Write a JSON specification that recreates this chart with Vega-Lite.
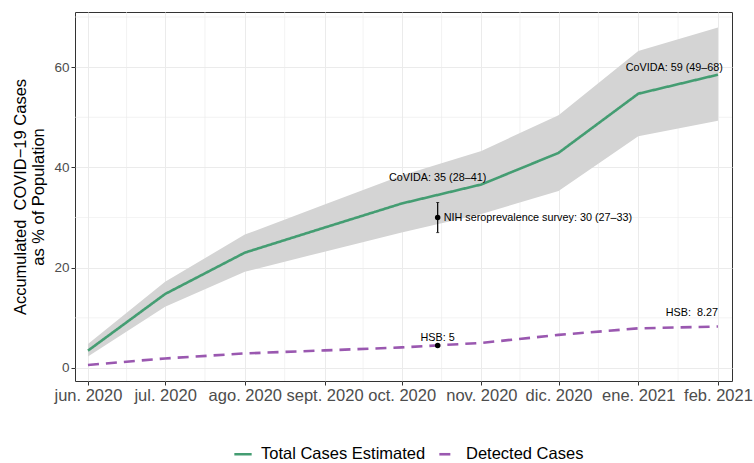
{
  "$schema": "https://vega.github.io/schema/vega-lite/v6.json",
  "width": 657,
  "height": 369,
  "autosize": {"type": "none"},
  "padding": {"left": 75, "top": 12, "right": 22, "bottom": 82},
  "background": "white",
  "config": {
    "font": "Liberation Sans",
    "view": {"stroke": "#333333", "strokeWidth": 1}
  },
  "datasets": {
    "lines": [
      {"date": "2020-06-01", "series": "Total Cases Estimated", "value": 3.45, "lo": 2.3, "hi": 4.8},
      {"date": "2020-07-01", "series": "Total Cases Estimated", "value": 14.75, "lo": 12.2, "hi": 17.2},
      {"date": "2020-08-01", "series": "Total Cases Estimated", "value": 23.0, "lo": 19.2, "hi": 26.6},
      {"date": "2020-09-01", "series": "Total Cases Estimated", "value": 28.0, "lo": 23.2, "hi": 32.6},
      {"date": "2020-10-01", "series": "Total Cases Estimated", "value": 32.8, "lo": 27.0, "hi": 38.4},
      {"date": "2020-11-01", "series": "Total Cases Estimated", "value": 36.6, "lo": 30.7, "hi": 43.3},
      {"date": "2020-12-01", "series": "Total Cases Estimated", "value": 42.9, "lo": 35.3, "hi": 50.4},
      {"date": "2021-01-01", "series": "Total Cases Estimated", "value": 54.7, "lo": 46.2, "hi": 63.2},
      {"date": "2021-02-01", "series": "Total Cases Estimated", "value": 58.5, "lo": 49.3, "hi": 67.9},
      {"date": "2020-06-01", "series": "Detected Cases", "value": 0.6},
      {"date": "2020-07-01", "series": "Detected Cases", "value": 1.9},
      {"date": "2020-08-01", "series": "Detected Cases", "value": 2.9},
      {"date": "2020-09-01", "series": "Detected Cases", "value": 3.5},
      {"date": "2020-10-01", "series": "Detected Cases", "value": 4.1},
      {"date": "2020-11-01", "series": "Detected Cases", "value": 5.0},
      {"date": "2020-12-01", "series": "Detected Cases", "value": 6.6},
      {"date": "2021-01-01", "series": "Detected Cases", "value": 7.9},
      {"date": "2021-02-01", "series": "Detected Cases", "value": 8.27}
    ],
    "minorx": [
      {"date": "2020-06-16"}, {"date": "2020-07-16T12:00:00Z"}, {"date": "2020-08-16T12:00:00Z"},
      {"date": "2020-09-16"}, {"date": "2020-10-16T12:00:00Z"}, {"date": "2020-11-16"},
      {"date": "2020-12-16T12:00:00Z"}, {"date": "2021-01-16T12:00:00Z"}
    ],
    "minory": [{"v": 10}, {"v": 30}, {"v": 50}, {"v": 70}],
    "survey": [{"date": "2020-10-15", "value": 30, "lo": 27, "hi": 33}],
    "hsb": [{"date": "2020-10-15", "value": 4.5}],
    "labels": [
      {"date": "2020-10-15", "value": 37.9, "text": "CoVIDA: 35 (28–41)"},
      {"date": "2021-01-15", "value": 59.85, "text": "CoVIDA: 59 (49–68)"},
      {"date": "2020-10-15", "value": 6.0, "text": "HSB: 5"}
    ]
  },
  "layer": [
    {
      "data": {"name": "minorx"},
      "mark": {"type": "rule", "color": "#EBEBEB", "strokeWidth": 0.6},
      "encoding": {
        "x": {"field": "date", "type": "temporal"}
      }
    },
    {
      "data": {"name": "minory"},
      "mark": {"type": "rule", "color": "#EBEBEB", "strokeWidth": 0.6},
      "encoding": {
        "y": {"field": "v", "type": "quantitative"}
      }
    },
    {
      "data": {"name": "lines"},
      "transform": [{"filter": "datum.series === 'Total Cases Estimated'"}],
      "mark": {"type": "area", "color": "#D4D4D4", "opacity": 1},
      "encoding": {
        "x": {"field": "date", "type": "temporal"},
        "y": {"field": "lo", "type": "quantitative"},
        "y2": {"field": "hi"}
      }
    },
    {
      "data": {"name": "lines"},
      "mark": {"type": "line", "strokeWidth": 2.6},
      "encoding": {
        "x": {
          "field": "date", "type": "temporal",
          "scale": {"type": "utc", "domain": [{"year": 2020, "month": 5, "date": 26, "hours": 23, "utc": true}, {"year": 2021, "month": 2, "date": 6, "hours": 11, "utc": true}]},
          "axis": {
            "title": null,
            "values": [
              {"year": 2020, "month": 6, "date": 1, "utc": true},
              {"year": 2020, "month": 7, "date": 1, "utc": true},
              {"year": 2020, "month": 8, "date": 1, "utc": true},
              {"year": 2020, "month": 9, "date": 1, "utc": true},
              {"year": 2020, "month": 10, "date": 1, "utc": true},
              {"year": 2020, "month": 11, "date": 1, "utc": true},
              {"year": 2020, "month": 12, "date": 1, "utc": true},
              {"year": 2021, "month": 1, "date": 1, "utc": true},
              {"year": 2021, "month": 2, "date": 1, "utc": true}
            ],
            "labelExpr": "['ene.','feb.','mar.','abr.','may.','jun.','jul.','ago.','sept.','oct.','nov.','dic.'][utcmonth(datum.value)] + ' ' + utcyear(datum.value)",
            "labelFontSize": 16.5,
            "labelColor": "#4D4D4D",
            "labelOverlap": false,
            "labelBound": false,
            "labelFlush": false,
            "labelPadding": 2,
            "tickSize": 4,
            "tickColor": "#333333",
            "domain": false,
            "grid": true,
            "gridColor": "#EBEBEB",
            "gridWidth": 1
          }
        },
        "y": {
          "field": "value", "type": "quantitative",
          "scale": {"domain": [-2.6, 71], "nice": false, "zero": false},
          "axis": {
            "title": ["Accumulated\u00a0 COVID−19 Cases", "as % of Population"],
            "titleFontSize": 16.5,
            "titleFontWeight": "normal",
            "titleColor": "#000000",
            "titlePadding": 7,
            "values": [0, 20, 40, 60],
            "labelFontSize": 13.5,
            "labelColor": "#4D4D4D",
            "labelPadding": 2,
            "tickSize": 4,
            "tickColor": "#333333",
            "domain": false,
            "grid": true,
            "gridColor": "#EBEBEB",
            "gridWidth": 1
          }
        },
        "color": {
          "field": "series", "type": "nominal",
          "scale": {"domain": ["Total Cases Estimated", "Detected Cases"], "range": ["#449D72", "#9A58B0"]},
          "legend": {
            "title": null,
            "orient": "none",
            "direction": "horizontal",
            "legendX": 158,
            "legendY": 432,
            "padding": 0,
            "labelFontSize": 16.5,
            "labelColor": "#000000",
            "labelLimit": 0,
            "symbolType": "stroke",
            "symbolStrokeWidth": 2.6,
            "symbolSize": 300,
            "columnPadding": 8,
            "labelOffset": 8
          }
        },
        "strokeDash": {
          "field": "series", "type": "nominal",
          "scale": {"domain": ["Total Cases Estimated", "Detected Cases"], "range": [[1, 0], [11, 7]]},
          "legend": null
        }
      }
    },
    {
      "data": {"name": "survey"},
      "mark": {"type": "rule", "color": "#000000", "strokeWidth": 1.2},
      "encoding": {
        "x": {"field": "date", "type": "temporal"},
        "y": {"field": "lo", "type": "quantitative"},
        "y2": {"field": "hi"}
      }
    },
    {
      "data": {"name": "survey"},
      "mark": {"type": "tick", "color": "#000000", "size": 3, "thickness": 1},
      "encoding": {
        "x": {"field": "date", "type": "temporal"},
        "y": {"field": "lo", "type": "quantitative"}
      }
    },
    {
      "data": {"name": "survey"},
      "mark": {"type": "tick", "color": "#000000", "size": 3, "thickness": 1},
      "encoding": {
        "x": {"field": "date", "type": "temporal"},
        "y": {"field": "hi", "type": "quantitative"}
      }
    },
    {
      "data": {"name": "survey"},
      "mark": {"type": "point", "filled": true, "color": "#000000", "size": 30, "opacity": 1},
      "encoding": {
        "x": {"field": "date", "type": "temporal"},
        "y": {"field": "value", "type": "quantitative"}
      }
    },
    {
      "data": {"name": "hsb"},
      "mark": {"type": "point", "filled": true, "color": "#000000", "size": 30, "opacity": 1},
      "encoding": {
        "x": {"field": "date", "type": "temporal"},
        "y": {"field": "value", "type": "quantitative"}
      }
    },
    {
      "data": {"name": "survey"},
      "mark": {"type": "text", "align": "left", "baseline": "middle", "dx": 6, "fontSize": 10.8, "color": "#000000"},
      "encoding": {
        "x": {"field": "date", "type": "temporal"},
        "y": {"field": "value", "type": "quantitative"},
        "text": {"value": "NIH seroprevalence survey: 30 (27–33)"}
      }
    },
    {
      "data": {"name": "labels"},
      "mark": {"type": "text", "align": "center", "baseline": "middle", "fontSize": 10.8, "color": "#000000"},
      "encoding": {
        "x": {"field": "date", "type": "temporal"},
        "y": {"field": "value", "type": "quantitative"},
        "text": {"field": "text"}
      }
    },
    {
      "data": {"values": [{"date": "2021-02-01", "value": 10.9}]},
      "mark": {"type": "text", "align": "right", "baseline": "middle", "fontSize": 10.8, "color": "#000000"},
      "encoding": {
        "x": {"field": "date", "type": "temporal"},
        "y": {"field": "value", "type": "quantitative"},
        "text": {"value": "HSB:\u00a0 8.27"}
      }
    }
  ]
}
